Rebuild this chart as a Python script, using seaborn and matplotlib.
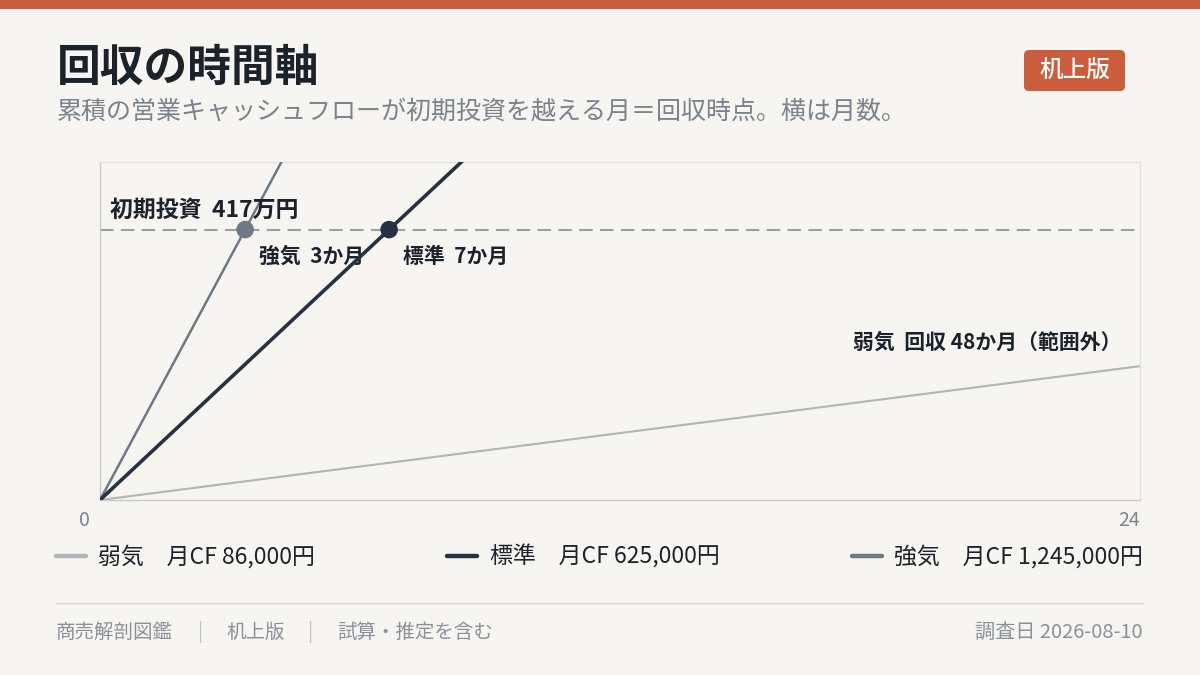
import numpy as np
import pandas as pd
import matplotlib
matplotlib.use("Agg")
import matplotlib.pyplot as plt
from matplotlib.patches import FancyBboxPatch, Rectangle
from matplotlib.lines import Line2D
from matplotlib.transforms import IdentityTransform
import seaborn as sns

# ---- data ----
scenarios = ["弱気", "標準", "強気"]
monthly_cf = [86000, 625000, 1245000]          # 円 / 月
initial_investment = 4170000                   # 円
payback_labels = ["回収 48か月（範囲外）", "7か月", "3か月"]
months = list(range(0, 25))
xticks = [0, 24]
colors = ["#b1b5ba", "#263241", "#6e7985"]
widths = [1.5, 2.6, 1.8]

rows = []
for s, cf in zip(scenarios, monthly_cf):
    for m in months:
        rows.append({"scenario": s, "month": m, "cum": cf * m / 10000})
df = pd.DataFrame(rows)
inv = initial_investment / 10000

sns.set_theme(style="white")
plt.rcParams["font.family"] = ["Noto Sans CJK JP", "DejaVu Sans"]
BG = "#f6f5f1"
DARK = "#1c222a"

fig = plt.figure(figsize=(12, 6.75), dpi=100, facecolor=BG)
ax = fig.add_axes([100 / 1200, 175 / 675, 1040 / 1200, 338 / 675])
ax.set_facecolor(BG)

for s, c, w, z in zip(scenarios, colors, widths, [2, 4, 3]):
    sns.lineplot(data=df[df.scenario == s], x="month", y="cum", color=c,
                 linewidth=w, ax=ax, label=s, zorder=z)

ax.set_xlim(0, 24)
ax.set_ylim(0, inv * 1.25)
ax.axhline(inv, color="#98a0a8", lw=1.5, dashes=(6.5, 3.5), zorder=1)

# crossing markers
pb = pd.DataFrame({"scenario": scenarios[1:],
                   "month": [inv / (cf / 10000) for cf in monthly_cf[1:]],
                   "cum": [inv, inv]})
sns.scatterplot(data=pb, x="month", y="cum", hue="scenario",
                palette=dict(zip(scenarios[1:], colors[1:])), s=160,
                edgecolor="none", ax=ax, legend=False, zorder=5)

for _, r in pb.iterrows():
    lab = payback_labels[scenarios.index(r.scenario)]
    ax.annotate(f"{r.scenario}  {lab}", xy=(r.month, r.cum), xytext=(10, -19),
                textcoords="offset points", ha="left", va="center",
                fontsize=15, fontweight="bold", color=DARK)

ax.annotate(f"初期投資  {initial_investment // 10000}万円", xy=(0, inv),
            xytext=(7, 14), textcoords="offset points", ha="left", va="center",
            fontsize=16.5, fontweight="bold", color=DARK)

weak_end = monthly_cf[0] * 24 / 10000
ax.annotate(f"{scenarios[0]}  {payback_labels[0]}", xy=(24, weak_end),
            xytext=(-13, 17), textcoords="offset points", ha="right", va="center",
            fontsize=15, fontweight="bold", color=DARK)

# axes styling
ax.set_xticks([])
ax.set_yticks([])
ax.set_xlabel("")
ax.set_ylabel("")
for side in ["left", "bottom"]:
    ax.spines[side].set_color("#cac9c4")
    ax.spines[side].set_linewidth(1)
for side in ["top", "right"]:
    ax.spines[side].set_color("#e4e2dd")
    ax.spines[side].set_linewidth(1)

ax.annotate(str(xticks[0]), xy=(xticks[0], 0), xytext=(-11, -15),
            textcoords="offset points", ha="center", va="center",
            fontsize=14, color="#7d848d")
ax.annotate(str(xticks[1]), xy=(xticks[1], 0), xytext=(0, -15),
            textcoords="offset points", ha="right", va="center",
            fontsize=14, color="#7d848d")

# legend
handles, _ = ax.get_legend_handles_labels()
if ax.legend_:
    ax.legend_.remove()
leg_labels = [f"{s}　月CF {cf:,}円" for s, cf in zip(scenarios, monthly_cf)]
leg = fig.legend(handles[:3], leg_labels, loc="center",
                 bbox_to_anchor=(56 / 1200, 1 - 557 / 675, 1087 / 1200, 0),
                 mode="expand", ncol=3, frameon=False, fontsize=16.5,
                 handlelength=1.3, handletextpad=0.55, borderaxespad=0,
                 borderpad=0)
for t in leg.get_texts():
    t.set_color(DARK)
for h in leg.get_lines():
    h.set_linewidth(3.2)

# header
fig.patches.append(Rectangle((0, 1 - 9 / 675), 1, 9 / 675, transform=fig.transFigure,
                             facecolor="#c95d3c", edgecolor="none"))
fig.text(57 / 1200, 1 - 68 / 675, "回収の時間軸", fontsize=31.5, fontweight="bold",
         color=DARK, ha="left", va="center")
fig.text(57 / 1200, 1 - 112 / 675,
         "累積の営業キャッシュフローが初期投資を越える月＝回収時点。横は月数。",
         fontsize=18, color="#7a828c", ha="left", va="center")
badge = FancyBboxPatch((1024, 675 - 91), 101, 41,
                       boxstyle="round,pad=0,rounding_size=5",
                       transform=IdentityTransform(), facecolor="#c95d3c",
                       edgecolor="none")
fig.patches.append(badge)
fig.text(1074.5 / 1200, 1 - 71 / 675, "机上版", fontsize=17, fontweight="medium",
         color="white", ha="center", va="center")

# footer
fig.lines.append(Line2D([56 / 1200, 1143 / 1200], [1 - 603 / 675, 1 - 603 / 675],
                        transform=fig.transFigure, color="#dbd9d3", lw=1))
FOOT = "#8b919a"
fy = 1 - 632 / 675
fig.text(56 / 1200, fy, "商売解剖図鑑", fontsize=14, color=FOOT, ha="left", va="center")
fig.text(201 / 1200, fy, "|", fontsize=14, color="#c3c4c4", ha="center", va="center")
fig.text(226 / 1200, fy, "机上版", fontsize=14, color=FOOT, ha="left", va="center")
fig.text(311 / 1200, fy, "|", fontsize=14, color="#c3c4c4", ha="center", va="center")
fig.text(337 / 1200, fy, "試算・推定を含む", fontsize=14, color=FOOT, ha="left", va="center")
fig.text(1143 / 1200, fy, "調査日 2026-08-10", fontsize=14.5, color=FOOT, ha="right", va="center")

fig.savefig("out.png", dpi=100, facecolor=BG)
